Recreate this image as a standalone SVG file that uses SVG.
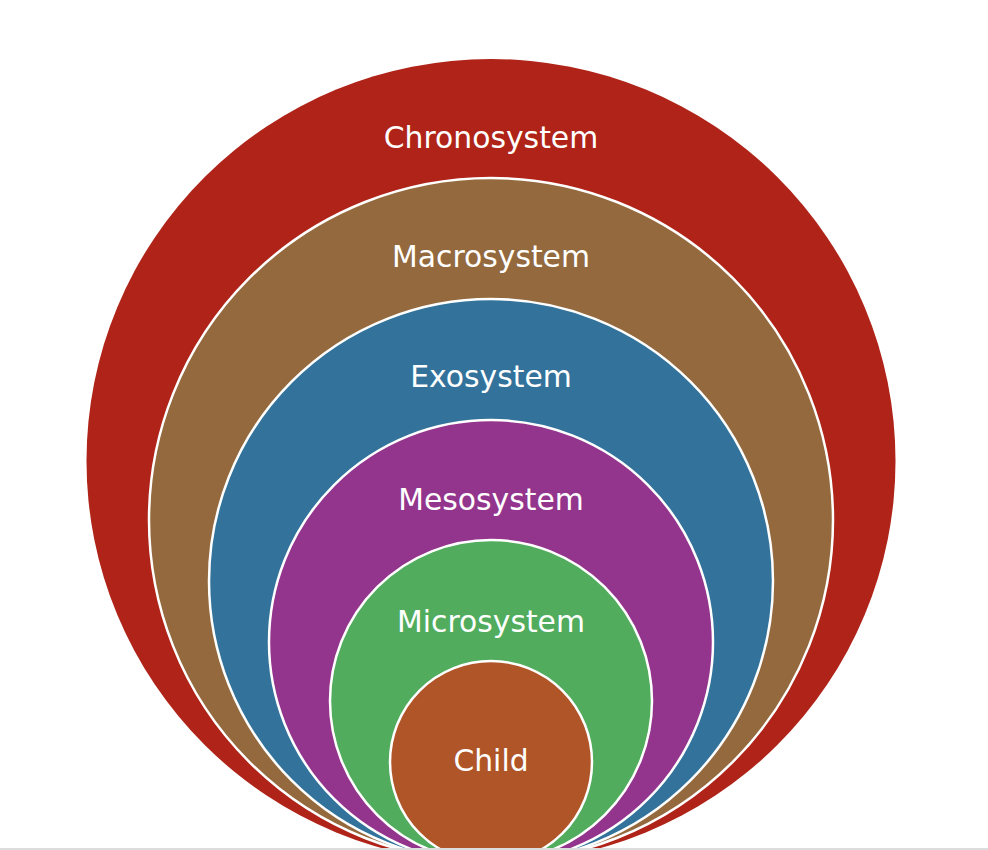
<svg xmlns="http://www.w3.org/2000/svg" width="988" height="850" viewBox="0 0 988 850">
  <style>
    .ring { stroke: #ffffff; stroke-width: 2.5; }
    .lbl { font-family: "DejaVu Sans", "Liberation Sans", sans-serif; font-size: 29.8px; fill: #ffffff; text-anchor: middle; }
  </style>
  <rect x="0" y="0" width="988" height="850" fill="#ffffff"/>
  <g id="chronosystem">
    <ellipse cx="491" cy="461" rx="404.5" ry="402" fill="#AF2318"/>
    <text class="lbl" x="491" y="147.5">Chronosystem</text>
  </g>
  <g id="macrosystem">
    <circle class="ring" cx="491" cy="520" r="342" fill="#93693D"/>
    <text class="lbl" x="491" y="266.5">Macrosystem</text>
  </g>
  <g id="exosystem">
    <circle class="ring" cx="491" cy="581" r="282" fill="#33739B"/>
    <text class="lbl" x="491" y="386.5">Exosystem</text>
  </g>
  <g id="mesosystem">
    <circle class="ring" cx="491" cy="642" r="222" fill="#93358C"/>
    <text class="lbl" x="491" y="509.5">Mesosystem</text>
  </g>
  <g id="microsystem">
    <circle class="ring" cx="491" cy="701" r="161" fill="#51AC5D"/>
    <text class="lbl" x="491" y="631.5">Microsystem</text>
  </g>
  <g id="child">
    <circle class="ring" cx="491" cy="762" r="101" fill="#B05528"/>
    <text class="lbl" x="491" y="771">Child</text>
  </g>
  <g id="connectors"></g>
  <rect x="0" y="848" width="988" height="2" fill="#dddddd"/>
</svg>
